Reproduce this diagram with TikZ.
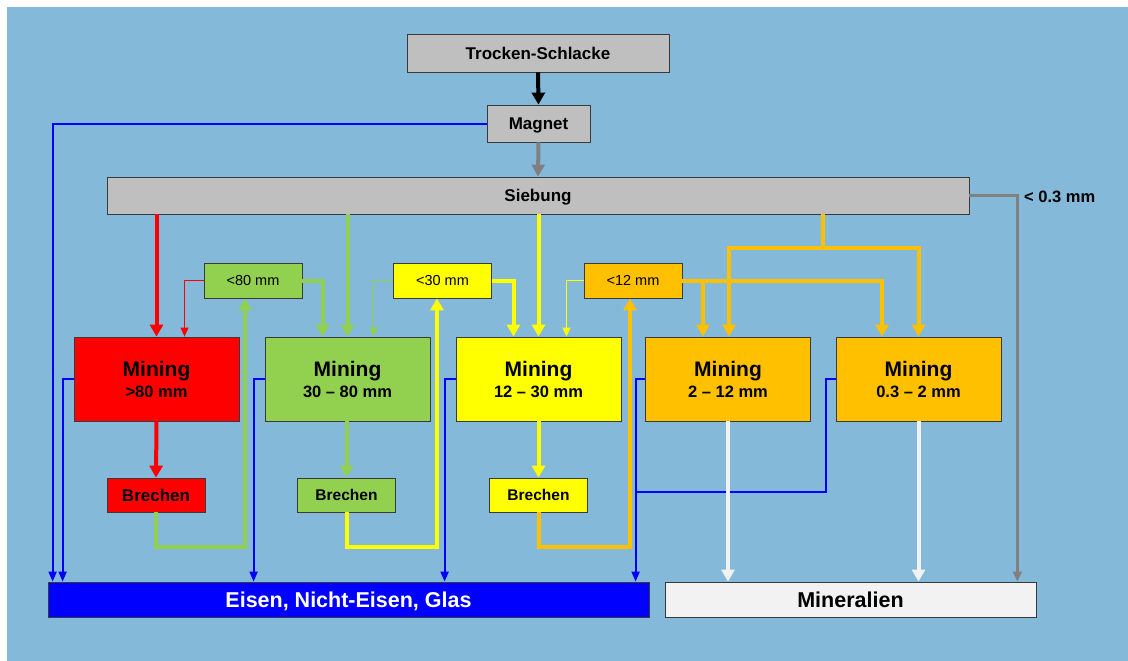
\documentclass[tikz,border=0pt]{standalone}
\usepackage{fontspec}
\setmainfont{Liberation Sans}
\usetikzlibrary{arrows.meta,calc}
\definecolor{bg}{HTML}{84B9DA}
\definecolor{boxgray}{HTML}{BFBFBF}
\definecolor{boxline}{HTML}{3A3A3A}
\definecolor{cred}{HTML}{FF0000}
\definecolor{cgreen}{HTML}{92D050}
\definecolor{cyellow}{HTML}{FFFF00}
\definecolor{corange}{HTML}{FFC000}
\definecolor{cblue}{HTML}{0000FF}
\definecolor{cwhite}{HTML}{F2F2F2}
\definecolor{cgrayline}{HTML}{808080}
\begin{document}
\begin{tikzpicture}[x=1pt,y=-1pt,
  box/.style={draw=boxline, line width=0.8pt, inner sep=0pt},
  topbox/.style={box, text height=12.2pt, text depth=0pt, fill=boxgray, minimum height=37pt, font=\bfseries\fontsize{17}{20}\selectfont},
  minebox/.style={box, align=center, minimum width=165pt, minimum height=84pt, font=\bfseries\fontsize{16.5}{21}\selectfont},
  brbox/.style={box, text height=11.1pt, text depth=0pt, minimum width=98pt, minimum height=34pt, font=\bfseries\fontsize{15.5}{18}\selectfont},
  smbox/.style={box, text height=10.4pt, text depth=0pt, minimum width=98pt, minimum height=35pt, font=\fontsize{14.5}{17}\selectfont},
  endbox/.style={box, text height=15.4pt, text depth=0pt, minimum height=35pt, font=\bfseries\fontsize{21.5}{24}\selectfont},
  tk/.style={line width=4pt, -{Triangle[width=13pt,length=12pt]}},
  tn/.style={line width=2pt, -{Triangle[width=8pt,length=10pt]}},
  tnl/.style={line width=2pt},
  tl/.style={line width=1.2pt, -{Triangle[width=8pt,length=9pt]}}
]
\useasboundingbox (0,0) rectangle (1128,661);
\fill[white] (0,0) rectangle (1128,661);
\fill[bg] (7,7) rectangle (1128,661);

% nodes
\node[topbox, minimum width=262pt, minimum height=38pt] (trock) at (538,53) {Trocken-Schlacke};
\node[topbox, minimum width=103pt] (magnet) at (538.5,123.5) {Magnet};
\node[topbox, minimum width=862pt] (sieb) at (538,195.5) {Siebung};

\node[minebox, fill=cred] (mred) at (156.5,379) {{\fontsize{21}{21}\selectfont Mining}\\>80 mm};
\node[minebox, fill=cgreen] (mgreen) at (347.5,379) {{\fontsize{21}{21}\selectfont Mining}\\30 – 80 mm};
\node[minebox, fill=cyellow] (myel) at (538.5,379) {{\fontsize{21}{21}\selectfont Mining}\\12 – 30 mm};
\node[minebox, fill=corange] (mo1) at (728,379) {{\fontsize{21}{21}\selectfont Mining}\\2 – 12 mm};
\node[minebox, fill=corange] (mo2) at (918.5,379) {{\fontsize{21}{21}\selectfont Mining}\\0.3 – 2 mm};

\node[brbox, fill=cred, text height=12.2pt, font=\bfseries\fontsize{17}{20}\selectfont] (bred) at (156,495) {Brechen};
\node[brbox, fill=cgreen] (bgreen) at (346.5,495) {Brechen};
\node[brbox, fill=cyellow] (byel) at (538.5,495) {Brechen};

\node[smbox, fill=cgreen] (s80) at (253,280.5) {<80 mm};
\node[smbox, fill=cyellow] (s30) at (442.5,280.5) {<30 mm};
\node[smbox, fill=corange] (s12) at (633,280.5) {<12 mm};

\node[endbox, fill=cblue, text=white, minimum width=601pt] (eisen) at (348.5,599.5) {Eisen, Nicht-Eisen, Glas};
\node[endbox, fill=cwhite, minimum width=371pt] (miner) at (850.5,599.5) {Mineralien};

\node[anchor=west, inner sep=0pt, text height=11.8pt, text depth=0pt, font=\bfseries\fontsize{16.5}{19}\selectfont] (lbl) at (1024,197) {< 0.3 mm};

\coordinate (osplit) at (823,248);
\coordinate (rail) at (0,547);
\coordinate (bjoin) at (636,492);

% top chain
\draw[tk, black] (trock.south) -- (magnet.north);
\draw[tk, cgrayline] (magnet.south) -- (sieb.north);
\draw[tn, cblue] (magnet.west) -| ([xshift=5pt]eisen.north west);
\draw[line width=2.5pt, cgrayline, -{Triangle[width=9pt,length=10pt]}] (sieb.east) -| ([xshift=-19pt]miner.north east);

% Siebung to mining
\draw[tk, cred] (sieb.south -| mred.north) -- (mred.north);
\draw[tk, cgreen] (sieb.south -| mgreen.north) -- (mgreen.north);
\draw[tk, cyellow] (sieb.south -| myel.north) -- (myel.north);
\draw[tk, corange] (sieb.south -| osplit) -- (osplit) -| ([xshift=1pt]mo1.north);
\draw[tk, corange] (osplit) -| (mo2.north);

% small boxes
\draw[tl, cred] (s80.west) -| ([xshift=28pt]mred.north);
\draw[tk, cgreen] (s80.east) -| ([xshift=-25pt]mgreen.north);
\draw[tl, cgreen] (s30.west) -| ([xshift=26pt]mgreen.north);
\draw[tk, cyellow] (s30.east) -| ([xshift=-25pt]myel.north);
\draw[tl, cyellow] (s12.west) -| ([xshift=28pt]myel.north);
\draw[tk, corange] (s12.east) -| ([xshift=-25pt]mo1.north);
\draw[tk, corange] (s12.east) -| ([xshift=-36.5pt]mo2.north);

% mining to brechen
\draw[tk, cred] (mred.south) -- (bred.north);
\draw[tk, cgreen] (mgreen.south -| bgreen.north) -- (bgreen.north);
\draw[tk, cyellow] (myel.south) -- (byel.north);

% return loops
\draw[tk, cgreen] (bred.south) -- (bred.south |- rail) -| ([xshift=-8pt]s80.south);
\draw[tk, cyellow] (bgreen.south) -- (bgreen.south |- rail) -| ([xshift=-5.5pt]s30.south);
\draw[tk, corange] (byel.south) -- (byel.south |- rail) -| ([xshift=-3pt]s12.south);

% blue outputs
\draw[tn, cblue] (mred.west) -| ([xshift=15pt]eisen.north west);
\draw[tn, cblue] (mgreen.west) -| ([xshift=206pt]eisen.north west);
\draw[tn, cblue] (myel.west) -| ([xshift=397pt]eisen.north west);
\draw[tn, cblue] (mo1.west) -| ([xshift=588pt]eisen.north west);
\draw[tnl, cblue] (mo2.west) -- ([xshift=-10pt]mo2.west) |- (bjoin);

% white outputs
\draw[tk, cwhite] (mo1.south) -- (mo1.south |- miner.north);
\draw[tk, cwhite] (mo2.south) -- (mo2.south |- miner.north);
\end{tikzpicture}
\end{document}
